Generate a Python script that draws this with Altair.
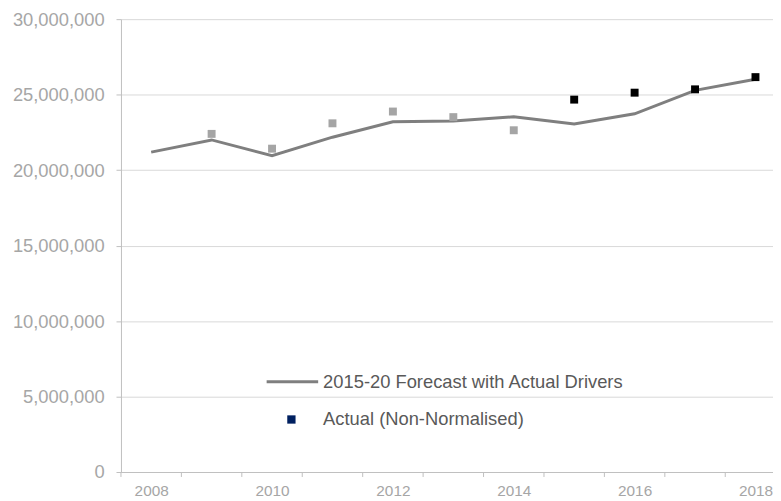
import altair as alt
import pandas as pd

years = list(range(2008, 2019))
forecast = [21190000, 22000000, 20950000, 22180000, 23200000, 23250000,
            23530000, 23050000, 23730000, 25280000, 26020000]
actual_years = list(range(2009, 2019))
actual = [22400000, 21420000, 23100000, 23880000, 23510000, 22640000,
          24670000, 25130000, 25350000, 26160000]
actual_group = ["Earlier"] * 6 + ["Recent"] * 4
label_years = [2008, 2010, 2012, 2014, 2016, 2018]
legend_labels = ["2015-20 Forecast with Actual Drivers", "Actual (Non-Normalised)"]
y_ticks = [0, 5000000, 10000000, 15000000, 20000000, 25000000, 30000000]

FONT = "Liberation Sans"

df_f = pd.DataFrame({"year": years, "value": forecast})
df_a = pd.DataFrame({"year": actual_years, "value": actual, "group": actual_group})
# category boundaries (Excel-style ticks between categories)
df_ticks = pd.DataFrame({"pos": [y - 0.5 for y in years]})

xscale = alt.Scale(domain=[2007.5, 2018.29], nice=False, zero=False)
yscale = alt.Scale(domain=[0, 30000000], nice=False)

xaxis = alt.Axis(
    values=label_years,
    format="d",
    labelOverlap=False,
    labelFlush=False,
    ticks=False,
    tickSize=0,
    domainColor="#bfbfbf",
    labelPadding=12,
    labelFontSize=15.5,
    labelColor="#a6a6a6",
    labelFont=FONT,
    grid=False,
    title=None,
)
yaxis = alt.Axis(
    values=y_ticks,
    format=",d",
    tickSize=5,
    tickColor="#bfbfbf",
    domainColor="#bfbfbf",
    gridColor="#d9d9d9",
    labelPadding=12,
    labelFontSize=18.5,
    labelColor="#a6a6a6",
    labelFont=FONT,
    title=None,
)

line = alt.Chart(df_f).mark_line(color="#7f7f7f", strokeWidth=3).encode(
    x=alt.X("year:Q", scale=xscale, axis=xaxis),
    y=alt.Y("value:Q", scale=yscale, axis=yaxis),
)

xticks = alt.Chart(df_ticks).mark_rule(color="#bfbfbf", strokeWidth=1).encode(
    x=alt.X("pos:Q", scale=xscale),
    y=alt.value(457), y2=alt.value(462),
)

points = alt.Chart(df_a).mark_square(size=64, opacity=1).encode(
    x=alt.X("year:Q", scale=xscale),
    y=alt.Y("value:Q", scale=yscale),
    color=alt.Color("group:N", scale=alt.Scale(domain=["Earlier", "Recent"],
                                               range=["#a5a5a5", "#000000"]), legend=None),
)

leg_df1 = pd.DataFrame({"label": [legend_labels[0]]})
leg_df2 = pd.DataFrame({"label": [legend_labels[1]]})

leg_line = alt.Chart(leg_df1).mark_rule(color="#7f7f7f", strokeWidth=3).encode(
    x=alt.value(147), x2=alt.value(199), y=alt.value(366))
leg_text1 = alt.Chart(leg_df1).mark_text(
    align="left", baseline="middle", fontSize=18.5, color="#595959", font=FONT
).encode(x=alt.value(204), y=alt.value(366), text="label:N")
leg_sq = alt.Chart(leg_df2).mark_square(size=70, color="#002060", opacity=1).encode(
    x=alt.value(172), y=alt.value(404))
leg_text2 = alt.Chart(leg_df2).mark_text(
    align="left", baseline="middle", fontSize=18.5, color="#595959", font=FONT
).encode(x=alt.value(204), y=alt.value(404), text="label:N")

chart = alt.layer(line, xticks, points, leg_line, leg_text1, leg_sq, leg_text2).properties(
    width=658, height=457,
    padding={"left": 4, "top": 0, "right": 0, "bottom": 0},
).configure_view(stroke=None)

chart.save("out.html", embed_options={"renderer": "svg", "actions": False})
